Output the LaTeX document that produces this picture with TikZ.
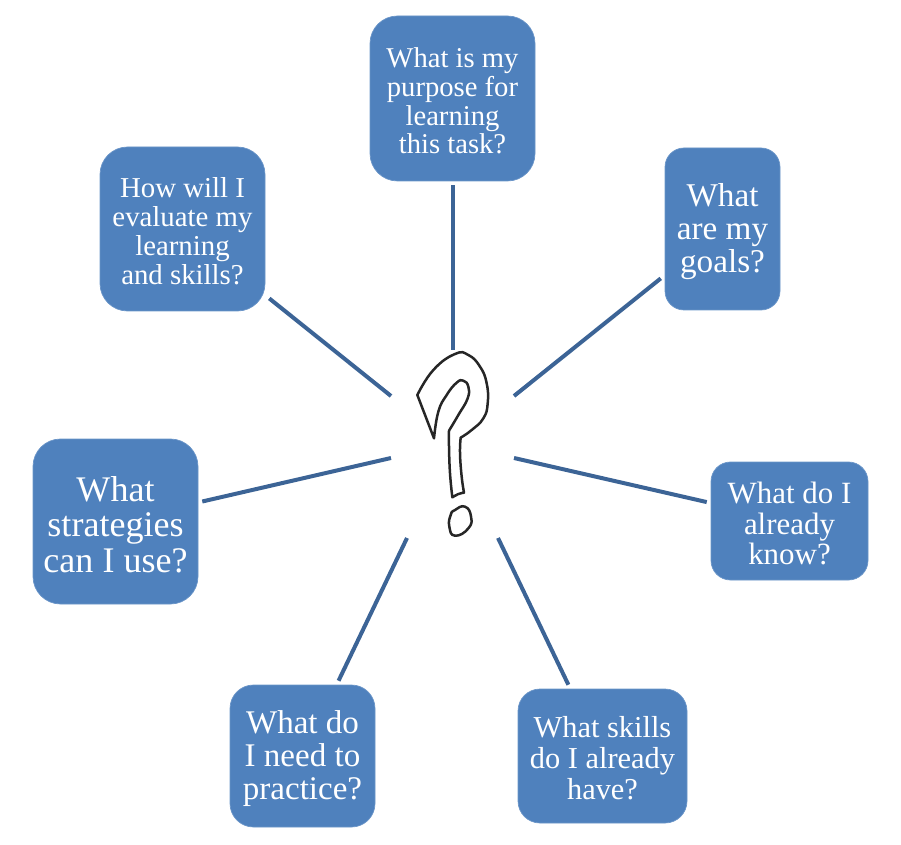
\documentclass[tikz,border=0pt]{standalone}
\usepackage{fontspec}
\setmainfont{Liberation Serif}
\definecolor{boxblue}{HTML}{4F81BD}
\definecolor{boxedge}{HTML}{6A95C8}
\definecolor{spoke}{HTML}{3C6496}
\newcommand{\qtop}{\rule{0pt}{0.86em}}

\begin{document}
\begin{tikzpicture}[
    qbox/.style={draw=boxedge, line width=0.4pt, fill=boxblue, text=white,
      align=center, outer sep=0.085cm, inner sep=0pt},
    spokeline/.style={draw=spoke, line width=0.08cm},
    qmark/.style={line width=0.05cm, black!85, line join=round}]
  \useasboundingbox (0,0) rectangle (18.02,16.88);
  % Question boxes, clockwise from the top
  \node[qbox, minimum width=3.3cm, minimum height=3.3cm, rounded corners=0.55cm,
    font=\fontsize{16.3}{16.45}\selectfont]
    (purpose) at (9.05,14.91) {\qtop What is my\\purpose for\\learning\\this task?};
  \node[qbox, minimum width=2.3cm, minimum height=3.24cm, rounded corners=0.38cm,
    font=\fontsize{18.9}{18.8}\selectfont]
    (goals) at (14.45,12.3) {\qtop What\\are my\\goals?};
  \node[qbox, minimum width=3.14cm, minimum height=2.36cm, rounded corners=0.39cm,
    font=\fontsize{17.6}{17.4}\selectfont]
    (know) at (15.79,6.46) {\qtop What do I\\already\\know?};
  \node[qbox, minimum width=3.38cm, minimum height=2.68cm, rounded corners=0.44cm,
    font=\fontsize{17.3}{17.6}\selectfont]
    (skills) at (12.05,1.76) {\qtop What skills\\do I already\\have?};
  \node[qbox, minimum width=2.9cm, minimum height=2.84cm, rounded corners=0.47cm,
    font=\fontsize{18.8}{18.7}\selectfont]
    (practice) at (6.05,1.76) {\qtop What do\\I need to\\practice?};
  \node[qbox, minimum width=3.3cm, minimum height=3.3cm, rounded corners=0.55cm,
    font=\fontsize{20.5}{20.1}\selectfont]
    (strategies) at (2.31,6.45) {\qtop What\\strategies\\can I use?};
  \node[qbox, minimum width=3.3cm, minimum height=3.28cm, rounded corners=0.55cm,
    font=\fontsize{16.4}{16.45}\selectfont]
    (evaluate) at (3.65,12.3) {\qtop How will I\\evaluate my\\learning\\and skills?};
  % Inner ends of the spokes
  \coordinate (hub1) at (9.05,9.88);
  \coordinate (hub2) at (10.28,8.96);
  \coordinate (hub3) at (10.28,7.72);
  \coordinate (hub4) at (9.96,6.12);
  \coordinate (hub5) at (8.14,6.12);
  \coordinate (hub6) at (7.82,7.72);
  \coordinate (hub7) at (7.82,8.96);
  % Spokes
  \draw[spokeline] (purpose) -- (hub1);
  \draw[spokeline] (goals) -- (hub2);
  \draw[spokeline] (know) -- (hub3);
  \draw[spokeline] (skills) -- (hub4);
  \draw[spokeline] (practice) -- (hub5);
  \draw[spokeline] (strategies) -- (hub6);
  \draw[spokeline] (evaluate) -- (hub7);
  % Hand drawn question mark
  \begin{scope}[shift={(8,10.08)}, x=0.00667cm, y=-0.00667cm]
    \draw[qmark, tension=0.8]
      plot[smooth] coordinates {(52,165) (100,90) (165,42) (205,45) (240,80) (260,130)
        (263,190) (250,235) (215,270) (182,293)}
      -- plot[smooth] coordinates {(182,293) (180,340) (185,410) (192,458)}
      -- plot[smooth] coordinates {(192,458) (175,462) (157,472)}
      -- plot[smooth] coordinates {(157,472) (150,400) (147,320) (147,272)}
      -- plot[smooth] coordinates {(147,272) (175,225) (203,175) (205,140) (190,122)
        (170,128) (140,165) (115,215) (102,295)}
      -- cycle;
    \draw[qmark, tension=0.9] plot[smooth cycle] coordinates {(165,510) (195,500) (213,530)
      (205,565) (165,587) (148,560) (152,525)};
  \end{scope}
\end{tikzpicture}
\end{document}
